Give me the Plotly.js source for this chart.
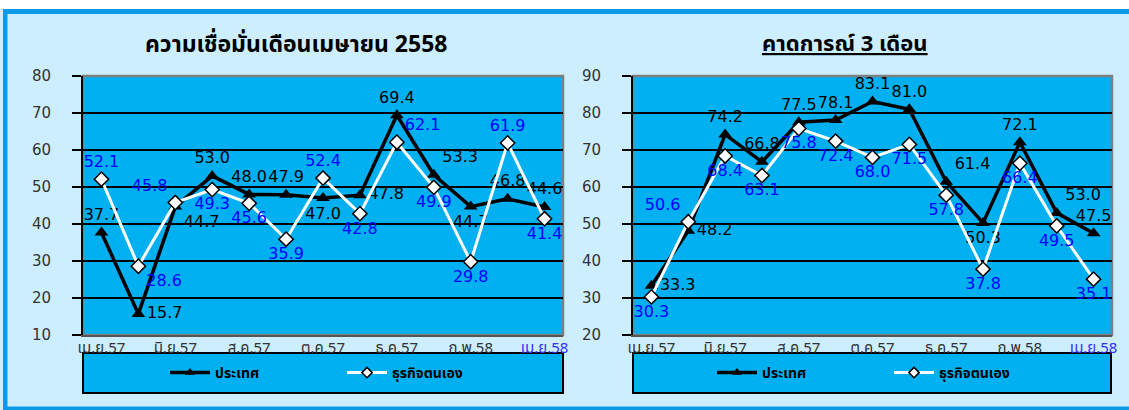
<!DOCTYPE html>
<html>
<head>
<meta charset="utf-8">
<script src="https://cdn.plot.ly/plotly-3.0.1.min.js"></script>
<style>
html,body{margin:0;padding:0;background:#fff;}
#chart{width:1129px;height:410px;}
</style>
</head>
<body>
<div id="chart"></div>
<script>
// ---- data ----
const months = ["เม.ย.57","พ.ค.57","มิ.ย.57","ก.ค.57","ส.ค.57","ก.ย.57","ต.ค.57","พ.ย.57","ธ.ค.57","ม.ค.58","ก.พ.58","มี.ค.58","เม.ย.58"];
const tickMonths = ["เม.ย.57","มิ.ย.57","ส.ค.57","ต.ค.57","ธ.ค.57","ก.พ.58","เม.ย.58"];
const seriesNames = ["ประเทศ","ธุรกิจตนเอง"];
const titleLeft = "ความเชื่อมั่นเดือนเมษายน 2558";
const titleRight = "คาดการณ์ 3 เดือน";

const leftCountry  = [37.7,15.7,44.7,53.0,48.0,47.9,47.0,47.8,69.4,53.3,44.7,46.8,44.6];
const leftBusiness = [52.1,28.6,45.8,49.3,45.6,35.9,52.4,42.8,62.1,49.9,29.8,61.9,41.4];
const rightCountry  = [33.3,48.2,74.2,66.8,77.5,78.1,83.1,81.0,61.4,50.3,72.1,53.0,47.5];
const rightBusiness = [30.3,50.6,68.4,63.1,75.8,72.4,68.0,71.5,57.8,37.8,66.4,49.5,35.1];

// label placement (style, not data)
const posLC = ["top center","middle right","bottom right","top center","top center","top center","bottom center","middle right","top center","top right","bottom center","top center","top center"];
const posLB = ["top center","bottom right","top left","bottom center","bottom center","bottom center","top center","bottom center","top right","bottom center","bottom center","top center","bottom center"];
const posRC = ["middle right","middle right","top center","top center","top center","top center","top center","top center","top right","bottom center","top center","top right","top center"];
const posRB = ["bottom center","top left","bottom center","bottom center","bottom center","bottom center","bottom center","bottom center","bottom center","bottom center","bottom center","bottom center","bottom center"];

const W = 1129, H = 410;
const px = v => v / W, py = v => (H - v) / H;

const PLOT_BG = "#00b0f0";
const PAGE_BG = "#cdeefe";
const FRAME = "#0a9ae6";
const numFamily = "DejaVu Sans, Verdana, sans-serif";
const thaiFont = "Tahoma, 'Noto Sans Thai', 'Noto Sans', sans-serif";

function fmt(a){ return a.map(v => v.toFixed(1)); }

const countryLine = {color: "#000", width: 3.5};
const businessLine = {color: "#fff", width: 3};

function countryTrace(y, pos, xa, ya){
  return {
    x: months, y: y, xaxis: xa, yaxis: ya, showlegend: false,
    name: seriesNames[0], type: "scatter", mode: "lines+markers+text",
    line: countryLine,
    marker: {symbol: "triangle-up", size: 12, color: "#000"},
    text: fmt(y), textposition: pos,
    textfont: {family: numFamily, size: 16, color: "#000"},
    cliponaxis: false
  };
}
function businessTrace(y, pos, xa, ya){
  return {
    x: months, y: y, xaxis: xa, yaxis: ya, showlegend: false,
    name: seriesNames[1], type: "scatter", mode: "lines+markers+text",
    line: businessLine,
    marker: {symbol: "diamond", size: 11, color: "#fff", line: {color: "#000", width: 1.5}},
    text: fmt(y), textposition: pos,
    textfont: {family: numFamily, size: 16, color: "#0000ff"},
    cliponaxis: false
  };
}
// legend-only entries (no points), smaller legend symbols as in the original
function legendEntry(i, xa, ya, leg){
  return {
    x: [null], y: [null], xaxis: xa, yaxis: ya, legend: leg,
    name: seriesNames[i], type: "scatter", mode: "lines+markers",
    line: i === 0 ? countryLine : businessLine,
    marker: i === 0 ? {symbol: "triangle-up", size: 9, color: "#000"}
                    : {symbol: "diamond", size: 8, color: "#fff", line: {color: "#000", width: 1.5}}
  };
}

const data = [
  countryTrace(leftCountry, posLC, "x", "y"),
  businessTrace(leftBusiness, posLB, "x", "y"),
  countryTrace(rightCountry, posRC, "x2", "y2"),
  businessTrace(rightBusiness, posRB, "x2", "y2"),
  legendEntry(0, "x", "y", "legend"),
  legendEntry(1, "x", "y", "legend"),
  legendEntry(0, "x2", "y2", "legend2"),
  legendEntry(1, "x2", "y2", "legend2")
];

const tickText = tickMonths.map((m, i) => i === tickMonths.length - 1 ? '<span style="color:#3333ff">' + m + '</span>' : m);

function xAxis(domain, anchor){
  return {
    domain: domain, anchor: anchor, type: "category",
    range: [-0.5, months.length - 0.5],
    tickvals: tickMonths, ticktext: tickText,
    tickfont: {family: thaiFont, size: 15, color: "#333"},
    ticks: "", showgrid: false, zeroline: false,
    showline: true, linecolor: "#555", linewidth: 2,
    ticklabelstandoff: -2, fixedrange: true
  };
}
function yAxis(domain, anchor, r){
  return {
    domain: domain, anchor: anchor, range: r, dtick: 10,
    tickfont: {family: numFamily, size: 15, color: "#333"},
    ticks: "outside", ticklen: 9, tickwidth: 2, tickcolor: "#000",
    ticklabelstandoff: 18,
    showgrid: true, gridcolor: "#000", gridwidth: 2,
    zeroline: false, showline: true, linecolor: "#000", linewidth: 2, fixedrange: true
  };
}

const yDom = [py(335), py(76)];
const xDomL = [px(83), px(563)];
const xDomR = [px(633), px(1112)];

const shapes = [
  {type:"rect", xref:"paper", yref:"paper", x0:0, x1:1, y0:py(9), y1:1, fillcolor:"#fff", line:{width:0}, layer:"below"},
  {type:"rect", xref:"paper", yref:"paper", x0:px(3), x1:1, y0:py(14), y1:py(9), fillcolor:FRAME, line:{width:0}, layer:"below"},
  {type:"rect", xref:"paper", yref:"paper", x0:px(3), x1:px(7.5), y0:0, y1:py(9), fillcolor:FRAME, line:{width:0}, layer:"below"},
  {type:"rect", xref:"paper", yref:"paper", x0:px(3), x1:1, y0:0, y1:py(406.5), fillcolor:FRAME, line:{width:0}, layer:"below"},
  {type:"rect", xref:"paper", yref:"paper", x0:xDomL[0], x1:xDomL[1], y0:yDom[0], y1:yDom[1], line:{color:"#7f7f7f", width:2.5}, layer:"between"},
  {type:"rect", xref:"paper", yref:"paper", x0:xDomR[0], x1:xDomR[1], y0:yDom[0], y1:yDom[1], line:{color:"#7f7f7f", width:2.5}, layer:"between"},
  {type:"rect", xref:"paper", yref:"paper", x0:px(83), x1:px(563), y0:py(393), y1:py(353), fillcolor:PLOT_BG, line:{color:"#000", width:2}, layer:"below"},
  {type:"rect", xref:"paper", yref:"paper", x0:px(633), x1:px(1111), y0:py(393), y1:py(353), fillcolor:PLOT_BG, line:{color:"#000", width:2}, layer:"below"}
];

const annotations = [
  {text: "<b>" + titleLeft + "</b>", xref:"paper", yref:"paper", x:px(296), y:py(45), xanchor:"center", yanchor:"middle", showarrow:false,
   font:{family: thaiFont, size: 23, color:"#000"}},
  {text: "<b><u>" + titleRight + "</u></b>", xref:"paper", yref:"paper", x:px(845), y:py(45), xanchor:"center", yanchor:"middle", showarrow:false,
   font:{family: thaiFont, size: 22, color:"#000"}}
];

function legendCfg(x0){
  return {
    orientation: "h", x: px(x0), xanchor: "left", y: py(373), yanchor: "middle",
    bgcolor: "rgba(0,0,0,0)", borderwidth: 0,
    font: {family: thaiFont, size: 14, color: "#000", weight: "bold"},
    entrywidth: 122, itemwidth: 40, traceorder: "normal"
  };
}

const layout = {
  width: W, height: H,
  margin: {l:0, r:0, t:0, b:0},
  paper_bgcolor: PAGE_BG, plot_bgcolor: PLOT_BG,
  showlegend: true,
  xaxis: xAxis(xDomL, "y"), yaxis: yAxis(yDom, "x", [10, 80]),
  xaxis2: xAxis(xDomR, "y2"), yaxis2: yAxis(yDom, "x2", [20, 90]),
  legend: legendCfg(165),
  legend2: legendCfg(712),
  shapes: shapes, annotations: annotations
};

Plotly.newPlot("chart", data, layout, {staticPlot: true, displayModeBar: false});
</script>
</body>
</html>
